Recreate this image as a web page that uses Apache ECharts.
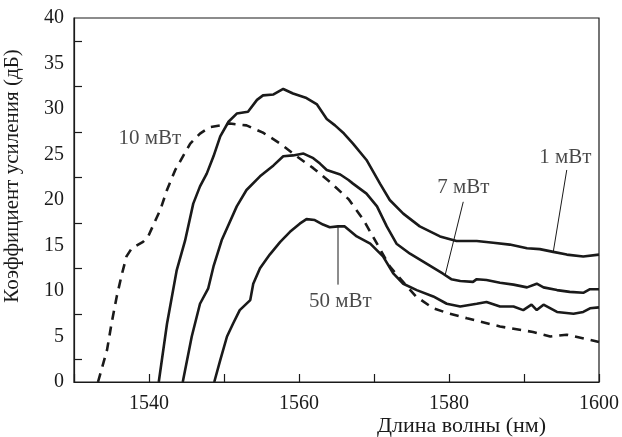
<!DOCTYPE html>
<html>
<head>
<meta charset="utf-8">
<script src="https://cdn.jsdelivr.net/npm/echarts@6/dist/echarts.min.js"></script>
<style>html,body{margin:0;padding:0;background:#fff}#c{width:622px;height:437px}</style>
</head>
<body>
<div id="c"></div>
<script>
// ---- data ----
const xTickLabels = [1540, 1560, 1580, 1600];
const yTickLabels = [0, 5, 10, 15, 20, 25, 30, 35, 40];

const s1mW = [[1541.3,0],[1542.4,6.4],[1543.7,12.3],[1544.8,15.5],[1545.9,19.6],[1546.8,21.5],[1547.7,22.9],[1548.6,24.8],[1549.5,27.0],[1550.6,28.6],[1551.7,29.5],[1553.2,29.7],[1554.4,31.0],[1555.2,31.5],[1556.6,31.6],[1557.9,32.2],[1559.2,31.7],[1561,31.2],[1562.4,30.5],[1563.7,28.9],[1564.8,28.2],[1566,27.3],[1567.2,26.2],[1569,24.4],[1570.8,21.8],[1572.1,20.0],[1573.9,18.5],[1576.1,17.1],[1578.8,16.0],[1581,15.5],[1583.7,15.5],[1585.9,15.3],[1588.1,15.1],[1590.4,14.7],[1592.1,14.6],[1593.9,14.3],[1595.7,14.0],[1597.9,13.8],[1600,14.0]];

const s7mW = [[1544.5,0],[1545.7,5.0],[1546.8,8.6],[1547.9,10.3],[1548.6,12.7],[1549.7,15.6],[1550.4,16.9],[1551.7,19.3],[1553,21.1],[1554.8,22.6],[1556.6,23.8],[1557.9,24.8],[1559.2,24.9],[1560.6,25.1],[1561.9,24.6],[1562.8,24.0],[1563.7,23.3],[1565.5,22.8],[1566.6,22.2],[1567.2,21.8],[1569,20.7],[1570.4,19.3],[1571.7,17.1],[1573,15.2],[1574.8,14.1],[1577,13.0],[1579.2,11.9],[1580.3,11.3],[1581.5,11.1],[1583.2,11.0],[1583.7,11.3],[1585,11.2],[1586.8,10.9],[1588.6,10.7],[1590.4,10.4],[1591.7,10.8],[1592.6,10.4],[1594.4,10.1],[1596.1,9.9],[1597.9,9.8],[1598.8,10.2],[1600,10.2]];

const s50mW = [[1548.7,0],[1549.5,2.4],[1550.4,5.0],[1551.2,6.4],[1552.1,7.9],[1553.5,9.0],[1553.9,10.8],[1554.8,12.5],[1556.1,14.0],[1557.5,15.4],[1558.8,16.5],[1560.1,17.4],[1561,17.9],[1562.1,17.8],[1563.2,17.3],[1564.1,17.0],[1565.2,17.1],[1566.1,17.1],[1567.7,16.0],[1569.5,15.2],[1571.2,13.8],[1572.6,11.9],[1573.9,10.8],[1575.7,10.1],[1577.9,9.4],[1579.7,8.6],[1581.5,8.3],[1583.7,8.6],[1585,8.8],[1586.8,8.3],[1588.6,8.3],[1589.9,7.9],[1591,8.5],[1591.7,7.9],[1592.6,8.5],[1594.4,7.7],[1596.6,7.5],[1597.9,7.7],[1598.8,8.1],[1600,8.2]];

const s10mW = [[1533.2,0],[1534.4,3.5],[1535,6.4],[1535.7,9.4],[1536.4,11.9],[1537,13.8],[1537.7,14.7],[1539.2,15.4],[1539.9,16.0],[1540.6,17.3],[1541.5,18.9],[1542.4,21.1],[1543.5,23.3],[1544.6,24.9],[1545.5,26.2],[1546.8,27.3],[1548.1,28.0],[1549.5,28.2],[1550.8,28.4],[1553,28.2],[1555.2,27.4],[1557.5,26.2],[1559.7,24.8],[1561.9,23.5],[1564.1,22.0],[1566.6,20.1],[1568.6,17.8],[1570.4,15.2],[1572.1,12.7],[1574.4,10.5],[1575.6,9.4],[1577.9,8.1],[1580.1,7.5],[1582.4,7.0],[1586.8,6.1],[1591.2,5.5],[1593.5,5.0],[1595.7,5.2],[1600,4.4]];

const annotationTexts = ['10 мВт', '1 мВт', '7 мВт', '50 мВт'];
const annotationAt = [[1540.1,26.8],[1595.5,24.7],[1581.9,21.4],[1565.5,8.8]];
const leader1 = [[1595.7,23.3],[1593.9,14.3]];
const leader7 = [[1581.9,19.8],[1579.5,11.8]];
const leader50 = [[1565.2,17.1],[1565.2,10.7]];

const xName = 'Длина волны (нм)';
const yName = 'Коэффициент усиления (дБ)';

// ---- chart ----
const INK = '#1a1a1a';
const FONT = 'Liberation Serif';
const chart = echarts.init(document.getElementById('c'), null, {renderer: 'canvas'});
const curve = (data, dashed) => ({
  type: 'line', data, showSymbol: false, symbol: 'none', smooth: false,
  lineStyle: {color: INK, width: 2.6, type: dashed ? [9, 7] : 'solid'},
  z: 3, silent: true
});
const leader = (data) => ({
  type: 'line', data, showSymbol: false, symbol: 'none',
  lineStyle: {color: INK, width: 1}, z: 2, silent: true
});
chart.setOption({
  animation: false,
  backgroundColor: '#fff',
  grid: {left: 74, right: 23, top: 18, bottom: 55, containLabel: false, outerBoundsMode: 'none',
    show: true, borderColor: INK, borderWidth: 1.2, backgroundColor: 'transparent'},
  xAxis: {
    type: 'value', min: 1530, max: 1600, interval: 10,
    name: xName, nameLocation: 'middle', nameGap: 33, nameMoveOverlap: false,
    nameTextStyle: {fontFamily: FONT, fontSize: 22, color: INK, padding: [0, 0, 0, 250]},
    axisLine: {show: true, lineStyle: {color: INK, width: 1.2}},
    axisTick: {show: true, inside: true, length: 8, lineStyle: {color: INK, width: 1.2}},
    axisLabel: {fontFamily: FONT, fontSize: 20, color: INK, margin: 12,
      formatter: v => xTickLabels.includes(v) ? String(v) : ''},
    splitLine: {show: false}
  },
  yAxis: {
    type: 'value', min: 0, max: 40, interval: 5,
    name: yName, nameLocation: 'middle', nameGap: 51, nameMoveOverlap: false,
    nameTextStyle: {fontFamily: FONT, fontSize: 21, color: INK, padding: [0, 0, 0, 48]},
    axisLine: {show: true, lineStyle: {color: INK, width: 1.2}},
    axisTick: {show: false, inside: true, length: 8},
    minorTick: {show: true, splitNumber: 2, length: 8, lineStyle: {color: INK, width: 1.2}},
    axisLabel: {fontFamily: FONT, fontSize: 20, color: INK, margin: 10,
      formatter: v => yTickLabels.includes(v) ? String(v) : ''},
    splitLine: {show: false}, minorSplitLine: {show: false}
  },
  series: [
    curve(s1mW, false), curve(s7mW, false), curve(s50mW, false), curve(s10mW, true),
    leader(leader1), leader(leader7), leader(leader50),
    {
      type: 'scatter', symbolSize: 0, silent: true, z: 4,
      data: annotationAt.map((p, i) => ({value: p, name: annotationTexts[i]})),
      label: {show: true, position: 'inside', formatter: p => p.name,
        fontFamily: FONT, fontSize: 21, color: INK}
    }
  ]
});
</script>
</body>
</html>
